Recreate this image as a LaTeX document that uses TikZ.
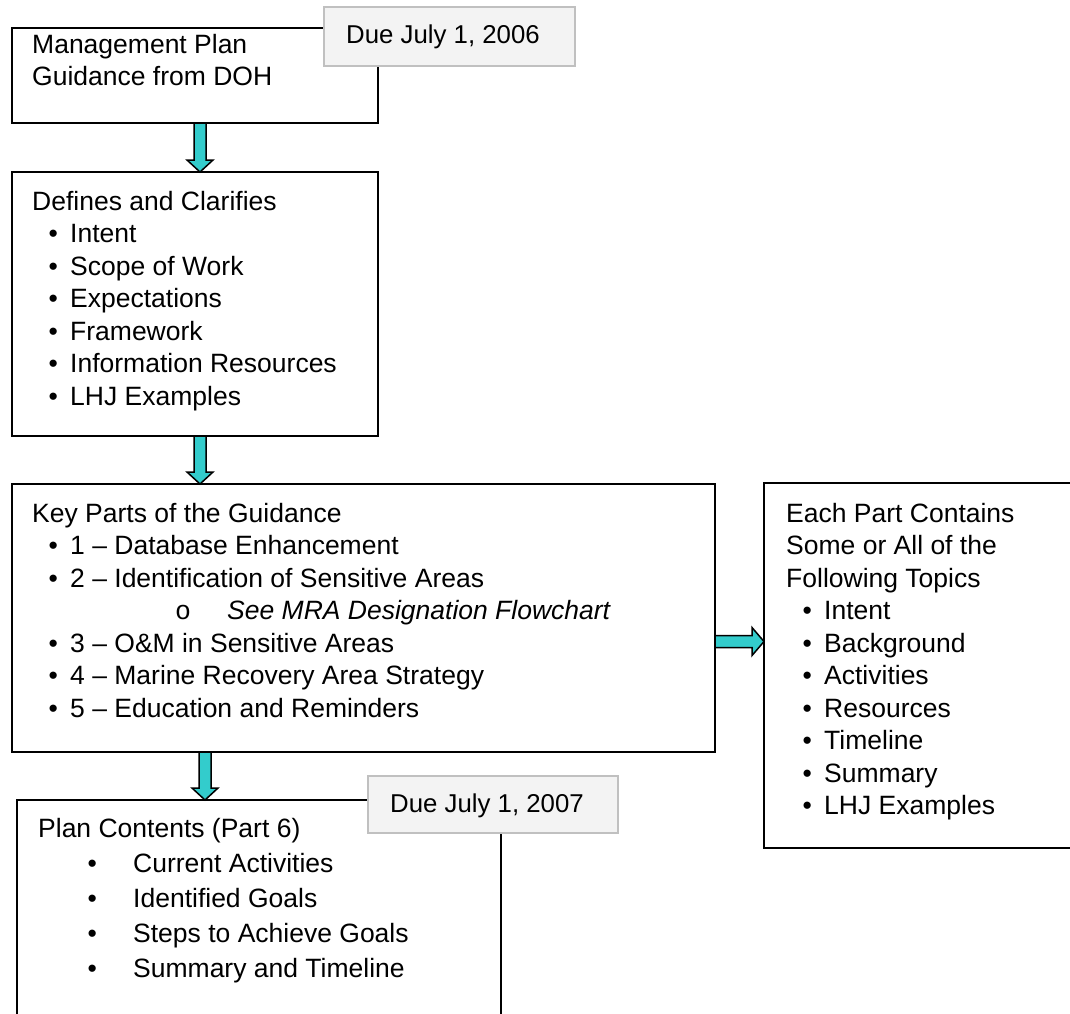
\documentclass[tikz,border=0pt]{standalone}
\usepackage{fontspec}
\setmainfont{Liberation Sans}
\newfontfamily\circfont{Liberation Mono}
\usetikzlibrary{calc}

\definecolor{arrowteal}{HTML}{33CCCC}
\definecolor{duefill}{HTML}{F3F3F3}
\definecolor{dueline}{HTML}{C0C0C0}

\tikzset{
  box/.style={draw,line width=2pt,outer sep=0pt,inner sep=0pt,anchor=north west},
  duebox/.style={draw=dueline,fill=duefill,line width=1.5pt,outer sep=0pt,inner sep=0pt,anchor=north west},
  txt/.style={anchor=base west,inner sep=0pt,font=\fontsize{26.5}{32.5}\selectfont},
  tealarrow/.style={draw=black,fill=arrowteal,line width=1.5pt,line join=miter}
}

% bullet lines
\newcommand{\itm}[1]{\hspace*{21pt}\makebox[0pt]{\textbullet}\hspace*{17pt}#1}
\newcommand{\planitm}[1]{\hspace*{54pt}\makebox[0pt]{\textbullet}\hspace*{41pt}#1}
% block arrows between boxes
\newcommand{\tealdown}[3]{%
  \draw[tealarrow] let \p1=(#2.south),\p2=(#3.north) in
    (#1pt-6pt,\y1)--(#1pt+6pt,\y1)--(#1pt+6pt,\y2+12pt)--(#1pt+13pt,\y2+12pt)
    --(#1pt,\y2)--(#1pt-13pt,\y2+12pt)--(#1pt-6pt,\y2+12pt)--cycle;}
\newcommand{\tealright}[3]{%
  \draw[tealarrow] let \p1=(#2.east),\p2=(#3.west) in
    (\x1,-#1pt+6pt)--(\x1,-#1pt-6pt)--(\x2-12pt,-#1pt-6pt)--(\x2-12pt,-#1pt-14pt)
    --(\x2,-#1pt)--(\x2-12pt,-#1pt+14pt)--(\x2-12pt,-#1pt+6pt)--cycle;}

\begin{document}
\begin{tikzpicture}[x=1pt,y=-1pt]
    \useasboundingbox(0,0)rectangle(1070,1013);
    \clip(0,0)rectangle(1070,1013);

    % boxes
    \node[box,minimum width=366pt,minimum height=95pt](guidance)at(12,28){};
    \node[box,minimum width=366pt,minimum height=264pt](defines)at(12,172){};
    \node[box,minimum width=703pt,minimum height=268pt](keyparts)at(12,484){};
    \node[box,minimum width=320pt,minimum height=365pt](topics)at(764,483){};
    \node[box,minimum width=484pt,minimum height=240pt](contents)at(17,800){};

    % arrows
    \tealdown{200}{guidance}{defines}
    \tealdown{200}{defines}{keyparts}
    \tealdown{205}{keyparts}{contents}
    \tealright{641.5}{keyparts}{topics}

    % due dates
    \node[duebox,minimum width=251pt,minimum height=59pt](dueA)at(324,7){};
    \node[duebox,minimum width=250pt,minimum height=57pt](dueB)at(368,776){};
    \node[txt,font=\fontsize{25.8}{30}\selectfont](dueAtxt)at(346,43){Due July 1, 2006};
    \node[txt,font=\fontsize{25.8}{30}\selectfont](dueBtxt)at(390,812){Due July 1, 2007};

    % texts
    \node[txt](guidancetxt)at(32,53){\begin{tabular}[t]{@{}l@{}}
        Management Plan\\Guidance from DOH\end{tabular}};
    \node[txt](definestxt)at(32,210){\begin{tabular}[t]{@{}l@{}}
        Defines and Clarifies\\\itm{Intent}\\\itm{Scope of Work}\\\itm{Expectations}\\
        \itm{Framework}\\\itm{Information Resources}\\\itm{LHJ Examples}\end{tabular}};
    \node[txt](keypartstxt)at(32,522){\begin{tabular}[t]{@{}l@{}}
        Key Parts of the Guidance\\
        \itm{1 \textendash{} Database Enhancement}\\
        \itm{2 \textendash{} Identification of Sensitive Areas}\\
        \hspace*{151pt}\makebox[0pt]{\circfont o}\hspace*{44pt}\textit{See MRA Designation Flowchart}\\
        \itm{3 \textendash{} O\&M in Sensitive Areas}\\
        \itm{4 \textendash{} Marine Recovery Area Strategy}\\
        \itm{5 \textendash{} Education and Reminders}\end{tabular}};
    \node[txt](topicstxt)at(786,522){\begin{tabular}[t]{@{}l@{}}
        Each Part Contains\\Some or All of the\\Following Topics\\
        \itm{Intent}\\\itm{Background}\\\itm{Activities}\\\itm{Resources}\\
        \itm{Timeline}\\\itm{Summary}\\\itm{LHJ Examples}\end{tabular}};
    \node[txt,font=\fontsize{26.5}{35}\selectfont](contentstxt)at(38,837){\begin{tabular}[t]{@{}l@{}}
        Plan Contents (Part 6)\\\planitm{Current Activities}\\\planitm{Identified Goals}\\
        \planitm{Steps to Achieve Goals}\\\planitm{Summary and Timeline}\end{tabular}};
\end{tikzpicture}
\end{document}
